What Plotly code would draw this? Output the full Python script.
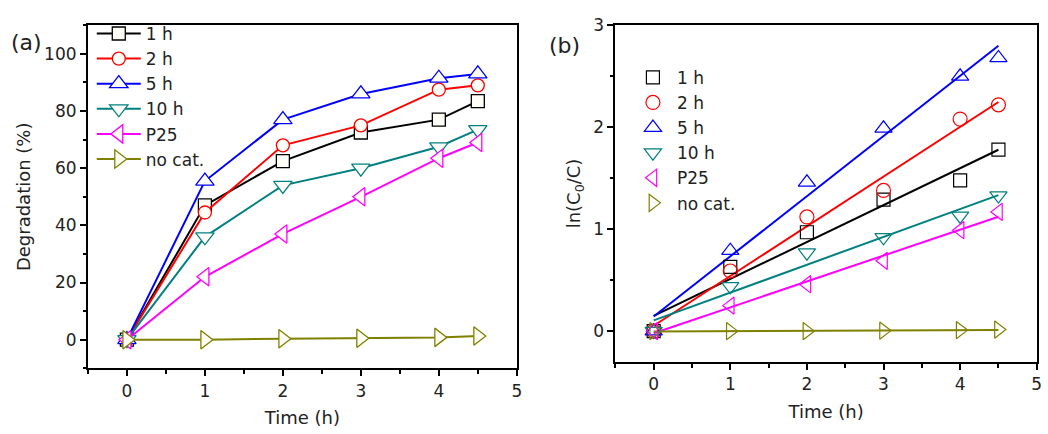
import numpy as np
import plotly.graph_objects as go

# ---------------- data ----------------
time_h = [0, 1, 2, 3, 4, 4.5]
series_names = ["1 h", "2 h", "5 h", "10 h", "P25", "no cat."]

deg_1h = [0, 47, 62.5, 72.5, 77, 83.5]
deg_2h = [0, 44.5, 68, 75, 87.5, 89]
deg_5h = [0, 55.5, 77, 86, 91.5, 93]
deg_10h = [0, 36, 54, 60, 67.5, 73.5]
deg_p25 = [0, 22, 37, 50, 63.5, 69]
deg_nocat = [0, 0, 0.3, 0.5, 0.8, 1.3]

ln_1h = [0, 0.63, 0.97, 1.29, 1.48, 1.78]
ln_2h = [0, 0.59, 1.12, 1.38, 2.08, 2.22]
ln_5h = [0, 0.79, 1.46, 1.99, 2.50, 2.68]
ln_10h = [0, 0.44, 0.77, 0.92, 1.13, 1.33]
ln_p25 = [0, 0.25, 0.46, 0.69, 0.99, 1.17]
ln_nocat = [0, 0, 0, 0.005, 0.01, 0.015]

x_ticks = [0, 1, 2, 3, 4, 5]
ya_ticks = [0, 20, 40, 60, 80, 100]
yb_ticks = [0, 1, 2, 3]

# ---------------- styles ----------------
colors = ["#000000", "#FF0000", "#0000FF", "#008080", "#FF00FF", "#808000"]
symbols = ["square", "circle", "triangle-up", "triangle-down", "triangle-left", "triangle-right"]
sizes_a = [13, 13, 16, 16, 16, 16]
sizes_b = [13, 14, 15, 15, 15, 15]
FONT = "DejaVu Sans, Liberation Sans, Arial, sans-serif"
TXT = "#222222"

deg_sets = [deg_1h, deg_2h, deg_5h, deg_10h, deg_p25, deg_nocat]
ln_sets = [ln_1h, ln_2h, ln_5h, ln_10h, ln_p25, ln_nocat]

fig = go.Figure()

# panel (a)
for name, ys, c, s, sz in zip(series_names, deg_sets, colors, symbols, sizes_a):
    fig.add_trace(go.Scatter(
        x=time_h, y=ys, name=name, mode="lines+markers",
        line=dict(color=c, width=2),
        marker=dict(symbol=s, size=sz, color="#FFFFF8", line=dict(color=c, width=1.3)),
        xaxis="x", yaxis="y", legend="legend",
    ))

# panel (b): linear fits
for name, ys, c in zip(series_names, ln_sets, colors):
    k, b = np.polyfit(time_h, ys, 1)
    xf = [time_h[0], time_h[-1]]
    fig.add_trace(go.Scatter(
        x=xf, y=[k * v + b for v in xf], mode="lines",
        line=dict(color=c, width=2), showlegend=False,
        xaxis="x2", yaxis="y2", hoverinfo="skip",
    ))
# panel (b): points
for name, ys, c, s, sz in zip(series_names, ln_sets, colors, symbols, sizes_b):
    fig.add_trace(go.Scatter(
        x=time_h, y=ys, name=name, mode="markers",
        marker=dict(symbol=s + "-open", size=sz, color=c, line=dict(color=c, width=1.2)),
        xaxis="x2", yaxis="y2", legend="legend2",
    ))

tickfont = dict(family=FONT, size=17, color=TXT)
titlefont = dict(family=FONT, size=18, color=TXT)

def xax(domain, anchor):
    return dict(
        domain=domain, anchor=anchor, range=[-0.5, 5], tickvals=x_ticks,
        showline=True, mirror=True, linecolor="black", linewidth=2,
        ticks="outside", ticklen=6, tickwidth=2, tickcolor="black",
        minor=dict(dtick=0.5, tick0=0, ticks="outside", ticklen=4, tickwidth=2, tickcolor="black"),
        showgrid=False, zeroline=False, tickfont=tickfont,
        title=dict(text="Time (h)", font=titlefont, standoff=12),
    )

def yax(domain, anchor, rng, tv, mdt, title, standoff):
    return dict(
        domain=domain, anchor=anchor, range=rng, tickvals=tv,
        showline=True, mirror=True, linecolor="black", linewidth=2,
        ticks="outside", ticklen=6, tickwidth=2, tickcolor="black",
        minor=dict(dtick=mdt, tick0=0, ticks="outside", ticklen=3, tickwidth=2, tickcolor="black"),
        showgrid=False, zeroline=False, tickfont=tickfont,
        title=dict(text=title, font=titlefont, standoff=standoff),
    )

fig.update_layout(
    width=1048, height=434,
    margin=dict(l=0, r=0, t=0, b=0),
    paper_bgcolor="white", plot_bgcolor="white",
    font=dict(family=FONT, color=TXT),
    xaxis=xax([0.0843, 0.4955], "y"),
    yaxis=yax([0.1551, 0.9638], "x", [-10, 110], ya_ticks, 10, "Degradation (%)", 9),
    xaxis2=xax([0.590, 0.994], "y2"),
    yaxis2=yax([0.1705, 0.9638], "x2", [-0.3, 3], yb_ticks, 0.5, "ln(C<sub>0</sub>/C)", 8),
    legend=dict(x=0.088, y=0.986, xanchor="left", yanchor="top",
                bgcolor="rgba(0,0,0,0)", font=dict(family=FONT, size=17, color=TXT),
                itemwidth=44, tracegroupgap=0),
    legend2=dict(x=0.603, y=0.8825, xanchor="left", yanchor="top",
                 bgcolor="rgba(0,0,0,0)", font=dict(family=FONT, size=17, color=TXT),
                 itemwidth=38, tracegroupgap=0),
    annotations=[
        dict(text="(a)", x=26.7 / 1048, y=1 - 33 / 434, xref="paper", yref="paper",
             xanchor="center", yanchor="middle",
             showarrow=False, font=dict(family=FONT, size=22, color=TXT)),
        dict(text="(b)", x=567.5 / 1048, y=1 - 36.7 / 434, xref="paper", yref="paper",
             xanchor="center", yanchor="middle",
             showarrow=False, font=dict(family=FONT, size=22, color=TXT)),
    ],
)

fig.write_html("out.html")
